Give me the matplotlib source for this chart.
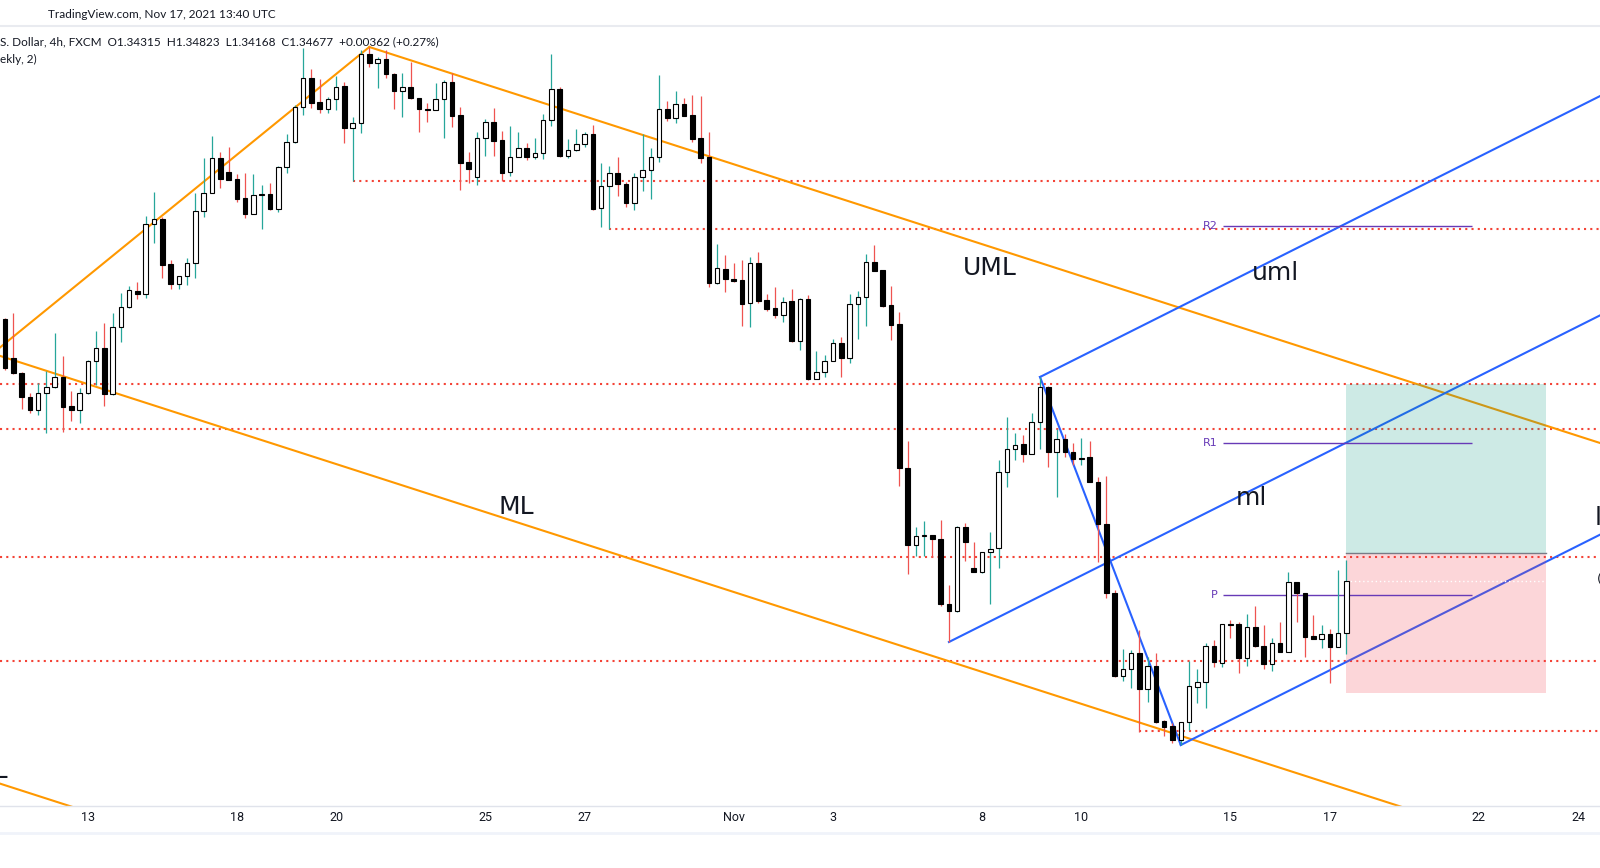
import numpy as np
import matplotlib
matplotlib.use("Agg")
import matplotlib.pyplot as plt
from matplotlib.patches import Rectangle
from matplotlib.lines import Line2D

# ---------------------------------------------------
# GBP/USD 4h candles (FXCM)
# ---------------------------------------------------
opens = [
    1.36511, 1.36238, 1.36133, 1.35965, 1.35874, 1.35993, 1.36035, 1.36105, 1.35902, 1.35874,
    1.35993, 1.36217, 1.36308, 1.35986, 1.36455, 1.36595, 1.36707, 1.36686, 1.37176, 1.37211,
    1.36896, 1.36756, 1.36812, 1.36903, 1.37267, 1.37393, 1.37638, 1.37540, 1.37491, 1.37358,
    1.37246, 1.37379, 1.37386, 1.37281, 1.37575, 1.37750, 1.37995, 1.38198, 1.38030, 1.37981,
    1.38051, 1.38142, 1.37848, 1.37883, 1.38366, 1.38303, 1.38331, 1.38226, 1.38107, 1.38135,
    1.38058, 1.37981, 1.37974, 1.38051, 1.38170, 1.37939, 1.37610, 1.37505, 1.37778, 1.37890,
    1.37764, 1.37540, 1.37645, 1.37708, 1.37645, 1.37673, 1.37904, 1.38121, 1.37652, 1.37694,
    1.37736, 1.37806, 1.37288, 1.37442, 1.37533, 1.37456, 1.37323, 1.37505, 1.37554, 1.37645,
    1.37981, 1.37918, 1.38016, 1.37939, 1.37778, 1.37645, 1.36763, 1.36861, 1.36791, 1.36784,
    1.36623, 1.36903, 1.36644, 1.36588, 1.36539, 1.36637, 1.36357, 1.36651, 1.36091, 1.36140,
    1.36217, 1.36343, 1.36238, 1.36616, 1.36665, 1.36910, 1.36854, 1.36609, 1.36476, 1.35468,
    1.34929, 1.34992, 1.34999, 1.34971, 1.34516, 1.34467, 1.35055, 1.34768, 1.34740, 1.34880,
    1.34908, 1.35440, 1.35601, 1.35636, 1.35566, 1.35790, 1.36035, 1.35580, 1.35671, 1.35580,
    1.35531, 1.35545, 1.35370, 1.35076, 1.34593, 1.34012, 1.34061, 1.34173, 1.33921, 1.34082,
    1.33697, 1.33662, 1.33564, 1.33690, 1.33935, 1.33970, 1.34222, 1.34103, 1.34376, 1.34376,
    1.34138, 1.34355, 1.34222, 1.34096, 1.34243, 1.34180, 1.34670, 1.34593, 1.34292, 1.34271,
    1.34306, 1.34215, 1.34315,
]
highs = [
    1.36518, 1.36553, 1.36140, 1.35993, 1.36063, 1.36147, 1.36413, 1.36252, 1.36007, 1.36028,
    1.36224, 1.36427, 1.36483, 1.36553, 1.36693, 1.36742, 1.36770, 1.37232, 1.37400, 1.37225,
    1.36924, 1.36812, 1.36938, 1.37393, 1.37638, 1.37792, 1.37680, 1.37715, 1.37526, 1.37533,
    1.37526, 1.37449, 1.37463, 1.37582, 1.37806, 1.38009, 1.38408, 1.38261, 1.38191, 1.38065,
    1.38212, 1.38170, 1.37925, 1.38394, 1.38415, 1.38345, 1.38394, 1.38233, 1.38233, 1.38310,
    1.38058, 1.38023, 1.38163, 1.38184, 1.38233, 1.37995, 1.37680, 1.37820, 1.37911, 1.37988,
    1.37827, 1.37862, 1.37820, 1.37743, 1.37778, 1.37946, 1.38366, 1.38135, 1.37771, 1.37841,
    1.37820, 1.37869, 1.37603, 1.37582, 1.37645, 1.37470, 1.37533, 1.37806, 1.37708, 1.38219,
    1.38037, 1.38107, 1.38058, 1.38079, 1.38072, 1.37820, 1.37036, 1.36959, 1.36903, 1.36924,
    1.36945, 1.36980, 1.36686, 1.36735, 1.36665, 1.36721, 1.36658, 1.36679, 1.36287, 1.36259,
    1.36371, 1.36385, 1.36686, 1.36707, 1.36966, 1.37029, 1.36854, 1.36742, 1.36560, 1.35657,
    1.35055, 1.35097, 1.34999, 1.35104, 1.34649, 1.35062, 1.35083, 1.34950, 1.34880, 1.35020,
    1.35524, 1.35825, 1.35713, 1.35699, 1.35853, 1.36105, 1.36042, 1.35741, 1.35706, 1.35643,
    1.35678, 1.35657, 1.35405, 1.35412, 1.34614, 1.34201, 1.34194, 1.34334, 1.34145, 1.34173,
    1.33704, 1.33683, 1.33690, 1.34117, 1.34061, 1.34243, 1.34264, 1.34376, 1.34404, 1.34390,
    1.34446, 1.34502, 1.34369, 1.34278, 1.34390, 1.34740, 1.34670, 1.34593, 1.34439, 1.34369,
    1.34341, 1.34754, 1.34823,
]
lows = [
    1.36154, 1.36126, 1.35881, 1.35853, 1.35839, 1.35713, 1.36028, 1.35720, 1.35797, 1.35783,
    1.35986, 1.36049, 1.35902, 1.35979, 1.36350, 1.36588, 1.36651, 1.36658, 1.37043, 1.36798,
    1.36721, 1.36721, 1.36749, 1.36798, 1.37225, 1.37393, 1.37428, 1.37484, 1.37330, 1.37218,
    1.37246, 1.37141, 1.37274, 1.37260, 1.37533, 1.37743, 1.37939, 1.37988, 1.37953, 1.37953,
    1.37974, 1.37743, 1.37477, 1.37813, 1.38275, 1.38128, 1.38198, 1.37981, 1.37925, 1.38051,
    1.37820, 1.37890, 1.37974, 1.37778, 1.37855, 1.37414, 1.37463, 1.37449, 1.37652, 1.37652,
    1.37477, 1.37512, 1.37645, 1.37624, 1.37631, 1.37631, 1.37862, 1.37645, 1.37638, 1.37687,
    1.37715, 1.37274, 1.37155, 1.37141, 1.37372, 1.37295, 1.37274, 1.37407, 1.37351, 1.37610,
    1.37897, 1.37883, 1.37932, 1.37750, 1.37603, 1.36735, 1.36756, 1.36700, 1.36770, 1.36462,
    1.36455, 1.36623, 1.36567, 1.36518, 1.36490, 1.36350, 1.36294, 1.36084, 1.36091, 1.36105,
    1.36217, 1.36105, 1.36203, 1.36371, 1.36462, 1.36847, 1.36595, 1.36364, 1.35342, 1.34726,
    1.34852, 1.34852, 1.34845, 1.34502, 1.34250, 1.34460, 1.34817, 1.34740, 1.34733, 1.34516,
    1.34768, 1.35335, 1.35524, 1.35510, 1.35566, 1.35601, 1.35475, 1.35265, 1.35545, 1.35489,
    1.35489, 1.35370, 1.34810, 1.34558, 1.34005, 1.33977, 1.33928, 1.33620, 1.33830, 1.33683,
    1.33592, 1.33543, 1.33529, 1.33634, 1.33823, 1.33788, 1.34075, 1.34075, 1.34278, 1.34033,
    1.34082, 1.34215, 1.34061, 1.34047, 1.34180, 1.34180, 1.34390, 1.34145, 1.34271, 1.34208,
    1.33963, 1.34215, 1.34168,
]
closes = [
    1.36168, 1.36133, 1.35965, 1.35874, 1.35993, 1.36035, 1.36105, 1.35895, 1.35874, 1.35993,
    1.36217, 1.36308, 1.35986, 1.36455, 1.36595, 1.36714, 1.36686, 1.37176, 1.37211, 1.36889,
    1.36756, 1.36812, 1.36903, 1.37267, 1.37393, 1.37638, 1.37491, 1.37484, 1.37351, 1.37246,
    1.37379, 1.37386, 1.37281, 1.37575, 1.37750, 1.37995, 1.38198, 1.38023, 1.37981, 1.38051,
    1.38135, 1.37848, 1.37883, 1.38366, 1.38303, 1.38331, 1.38226, 1.38107, 1.38135, 1.38058,
    1.37981, 1.37974, 1.38051, 1.38170, 1.37932, 1.37603, 1.37561, 1.37778, 1.37890, 1.37757,
    1.37533, 1.37645, 1.37708, 1.37645, 1.37673, 1.37904, 1.38121, 1.37652, 1.37694, 1.37736,
    1.37806, 1.37281, 1.37442, 1.37533, 1.37456, 1.37323, 1.37505, 1.37554, 1.37645, 1.37981,
    1.37918, 1.38016, 1.37932, 1.37771, 1.37638, 1.36763, 1.36868, 1.36791, 1.36777, 1.36616,
    1.36903, 1.36637, 1.36581, 1.36539, 1.36630, 1.36357, 1.36651, 1.36091, 1.36140, 1.36217,
    1.36343, 1.36238, 1.36616, 1.36665, 1.36910, 1.36847, 1.36602, 1.36469, 1.35468, 1.34929,
    1.34992, 1.34999, 1.34971, 1.34516, 1.34467, 1.35055, 1.34950, 1.34740, 1.34880, 1.34901,
    1.35440, 1.35601, 1.35629, 1.35566, 1.35790, 1.36035, 1.35580, 1.35671, 1.35580, 1.35531,
    1.35538, 1.35370, 1.35076, 1.34593, 1.34012, 1.34061, 1.34173, 1.33921, 1.34082, 1.33690,
    1.33655, 1.33564, 1.33690, 1.33942, 1.33970, 1.34222, 1.34110, 1.34376, 1.34369, 1.34138,
    1.34355, 1.34222, 1.34096, 1.34243, 1.34180, 1.34670, 1.34593, 1.34285, 1.34271, 1.34306,
    1.34215, 1.34313, 1.34677,
]

# first 4h bar of each labelled day
tick_bars = [10, 28, 40, 58, 70, 88, 100, 118, 130, 148, 160, 178, 190]
tick_labels = ["13", "18", "20", "25", "27", "Nov", "3", "8", "10", "15", "17", "22", "24"]

# red dotted horizontal levels and the bar where each one starts (None = whole chart)
levels = [1.37477, 1.37141, 1.36056, 1.35741, 1.34845, 1.34117, 1.33627]
level_start = [42, 73, None, None, None, None, 137]

# Andrews pitchfork anchors (bar index, price)
orange_p0 = (-90, 1.37920)
orange_p1 = (-47, 1.34124)
orange_p2 = (44, 1.38415)
blue_p0 = (114, 1.34250)
blue_p1 = (125, 1.36105)
blue_p2 = (142, 1.33529)

# weekly pivots
pivot_names = ["R2", "R1", "P"]
pivot_prices = [1.37164, 1.35641, 1.34579]
pivot_from, pivot_to = 147.1, 177.2

# long position tool
pos_from, pos_to = 162, 186.1
pos_target = 1.36056
pos_entry = 1.34873
pos_stop = 1.33893

# ---------------------------------------------------
# figure / axes
# ---------------------------------------------------
W, H = 1600, 868
fig = plt.figure(figsize=(W / 100, H / 100), dpi=100)
fig.patch.set_facecolor("white")
ax = fig.add_axes([0, (H - 806) / H, 1, (806 - 27) / H])
x_lo, x_hi = -0.604, 192.63
ax.set_xlim(x_lo, x_hi)
ax.set_ylim(1.33102, 1.38555)
for s in ax.spines.values():
    s.set_visible(False)
ax.tick_params(axis="y", left=False, labelleft=False)
ax.set_xticks(tick_bars, tick_labels)
ax.tick_params(axis="x", length=0, pad=3.5, labelsize=9, labelcolor="#131722")
for lab in ax.get_xticklabels():
    lab.set_fontfamily("Roboto")

# dotted levels
for lvl, start in zip(levels, level_start):
    x0 = x_lo if start is None else start
    ax.plot([x0, x_hi], [lvl, lvl], color="#f44336", lw=1.5,
            linestyle=(0, (1, 2)), zorder=1)


def pitchfork(p0, p1, p2, color):
    mx, my = (p1[0] + p2[0]) / 2, (p1[1] + p2[1]) / 2
    slope = (my - p0[1]) / (mx - p0[0])
    for px, py in (p0, p1, p2):
        ax.plot([px, x_hi], [py, py + slope * (x_hi - px)], color=color, lw=1.5, zorder=2)
    ax.plot([p1[0], p2[0]], [p1[1], p2[1]], color=color, lw=1.5, zorder=2)


pitchfork(orange_p0, orange_p1, orange_p2, "#ff9800")
pitchfork(blue_p0, blue_p1, blue_p2, "#2962ff")

# long position box (translucent, sits over the lines)
ax.add_patch(Rectangle((pos_from, pos_entry), pos_to - pos_from, pos_target - pos_entry,
                       facecolor=(8 / 255, 153 / 255, 129 / 255, 0.2), edgecolor="none", zorder=3))
ax.add_patch(Rectangle((pos_from, pos_stop), pos_to - pos_from, pos_entry - pos_stop,
                       facecolor=(242 / 255, 54 / 255, 69 / 255, 0.2), edgecolor="none", zorder=3))
ax.plot([pos_from, pos_to], [pos_entry, pos_entry], color="#787b86", lw=1, zorder=3.5)
ax.plot([pos_from, pos_to], [closes[-1], closes[-1]], color="white", lw=1,
        linestyle=(0, (1, 2)), zorder=3.5)

# pivots
ax.hlines(pivot_prices, pivot_from, pivot_to, colors="#673ab7", lw=1, zorder=3)
for name, p in zip(pivot_names, pivot_prices):
    ax.text(pivot_from - 0.6, p, name, ha="right", va="center", fontsize=8,
            color="#673ab7", zorder=6)

# candles
x = np.arange(len(opens))
o = np.array(opens)
hi = np.array(highs)
lo = np.array(lows)
c = np.array(closes)
up = c >= o
ax.vlines(x[up], lo[up], hi[up], color="#26a69a", lw=0.9, zorder=4)
ax.vlines(x[~up], lo[~up], hi[~up], color="#ef5350", lw=0.9, zorder=4)
body = np.maximum(np.abs(c - o), 0.00002)
ax.bar(x, body, bottom=np.minimum(o, c), width=0.55,
       color=np.where(up, "white", "black"), edgecolor="black", linewidth=0.8, zorder=5)

# drawing labels (some run off the chart edge, as in the original)
txt = dict(fontsize=18, color="#131722", va="baseline", zorder=6, clip_on=True)
ax.text(118.9, 1.36819, "UML", ha="center", **txt)
ax.text(61.7, 1.35146, "ML", ha="center", **txt)
ax.text(153.5, 1.36784, "uml", ha="center", **txt)
ax.text(150.5, 1.35209, "ml", ha="center", **txt)
ax.text(192.0, 1.35069, "lml", ha="left", **txt)
ax.text(0.4, 1.33298, "LML", ha="right", **txt)
ax.text(192.3, 1.34684, "(", ha="left", va="center", fontsize=9, color="#131722",
        clip_on=True, zorder=6)

# header
hdr = dict(family="Lato", fontsize=8.5, color="#131722", va="center", ha="left")
fig.text(48 / W, 1 - 15 / H, "TradingView.com, Nov 17, 2021 13:40 UTC", **hdr)
chg = closes[-1] - opens[-1]
fig.text(0, 1 - 42 / H,
         f"S. Dollar, 4h, FXCM  O{opens[-1]:.5f}  H{highs[-1]:.5f}  L{lows[-1]:.5f}  "
         f"C{closes[-1]:.5f}  {chg:+.5f} ({chg / opens[-1] * 100:+.2f}%)", **hdr)
fig.text(0, 1 - 59 / H, "ekly, 2)", **hdr)

# separators
fig.add_artist(Line2D([0, 1], [1 - 26 / H, 1 - 26 / H], color="#e9ebf0", lw=1.5))
fig.add_artist(Line2D([0, 1], [(H - 806) / H, (H - 806) / H], color="#e0e3eb", lw=1))
fig.add_artist(Line2D([0, 1], [(H - 833) / H, (H - 833) / H], color="#f0f3fa", lw=2))

fig.savefig("out.png", dpi=100, facecolor="white")
